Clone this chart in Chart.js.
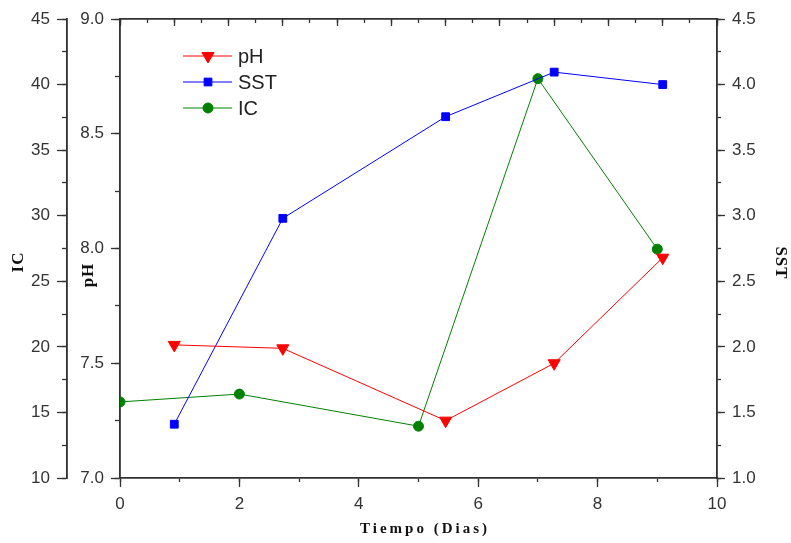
<!DOCTYPE html>
<html>
<head>
<meta charset="utf-8">
<script src="https://cdn.jsdelivr.net/npm/chart.js@4.4.0/dist/chart.umd.min.js"></script>
<style>
  html, body { margin: 0; padding: 0; background: #fff; }
</style>
</head>
<body>
<canvas id="chart" width="791" height="543"></canvas>
<script>
// IC is sampled on the bottom day axis, pH and SST on the top one (0-11)
const diasIC = [0, 2, 5, 7, 9];
const diasMuestra = [1, 3, 6, 8, 10];

const valoresIC = [15.8, 16.4, 13.95, 40.45, 27.45];
const valoresPH = [7.58, 7.565, 7.25, 7.50, 7.96];
const valoresSST = [1.41, 2.98, 3.755, 4.095, 4.0];

const ticksX = [0, 2, 4, 6, 8, 10];
const ticksXTop = [0, 1, 2, 3, 4, 5, 6, 7, 8, 9, 10, 11];
const ticksIC = [10, 15, 20, 25, 30, 35, 40, 45];
const ticksPH = [7.0, 7.5, 8.0, 8.5, 9.0];
const ticksSST = [1.0, 1.5, 2.0, 2.5, 3.0, 3.5, 4.0, 4.5];

const INK = '#333';
const tickFont = { family: '"Liberation Sans", Arial, sans-serif', size: 17 };

function isVertical(pos) {
    return pos === 'left' || pos === 'right';
}

// labelled axis with its major tick marks
function majorAxis(pos, min, max, list, tickLen, size, weight, fmt) {
    return {
        type: 'linear', position: pos, min: min, max: max, weight: weight,
        afterBuildTicks: s => { s.ticks = list.map(v => ({ value: v })); },
        afterFit: s => { if (isVertical(pos)) s.width = size; else s.height = size; },
        grid: { drawOnChartArea: false, drawTicks: true, tickLength: tickLen, tickColor: INK, tickWidth: 1.3 },
        border: { display: true, color: INK, width: 1.6 },
        ticks: {
            display: fmt !== null, autoSkip: false, color: INK, font: tickFont, padding: 7,
            maxRotation: 0, callback: fmt || (v => v)
        }
    };
}

// zero size axis that only adds the minor tick marks
function minorAxis(pos, min, max, step, tickLen, weight) {
    return {
        type: 'linear', position: pos, min: min, max: max, weight: weight,
        afterFit: s => { if (isVertical(pos)) s.width = 0; else s.height = 0; },
        grid: { drawOnChartArea: false, drawTicks: true, tickLength: tickLen, tickColor: INK, tickWidth: 1.3 },
        border: { display: true, color: INK, width: 1.6 },
        ticks: { display: false, stepSize: step, autoSkip: false }
    };
}

const oneDecimal = v => Number(v).toFixed(1);
const integer = v => String(v);

const legendBox = {
    id: 'legendBox',
    afterDraw(chart) {
        const ctx = chart.ctx;
        const rows = [56, 82, 108];
        chart.data.datasets.forEach((ds, i) => {
            const y = rows[i];
            ctx.save();
            ctx.strokeStyle = ds.borderColor;
            ctx.fillStyle = ds.backgroundColor;
            ctx.lineWidth = 1;
            ctx.beginPath();
            ctx.moveTo(183, y);
            ctx.lineTo(232, y);
            ctx.stroke();
            Chart.helpers.drawPoint(ctx, {
                pointStyle: ds.pointStyle, rotation: ds.rotation || 0,
                radius: ds.pointRadius, borderWidth: 1
            }, 208, y);
            ctx.fillStyle = '#222';
            ctx.font = '20px "Liberation Sans", Arial, sans-serif';
            ctx.textBaseline = 'middle';
            ctx.fillText(ds.label, 238, y + 1);
            ctx.restore();
        });
    }
};

const axisTitles = {
    id: 'axisTitles',
    afterDraw(chart) {
        const ctx = chart.ctx;
        const put = (text, x, y, rot, font, spacing) => {
            ctx.save();
            ctx.translate(x, y);
            ctx.rotate(rot);
            ctx.font = font;
            ctx.letterSpacing = spacing;
            ctx.fillStyle = '#111';
            ctx.textAlign = 'center';
            ctx.textBaseline = 'middle';
            ctx.fillText(text, 0, 0);
            ctx.restore();
        };
        const serif = '"Liberation Serif", "Times New Roman", serif';
        put('IC', 19, 262, -Math.PI / 2, 'bold 17px ' + serif, '1px');
        put('pH', 89, 275, -Math.PI / 2, 'bold 17px ' + serif, '1px');
        put('SST', 780, 263, Math.PI / 2, 'bold 17px ' + serif, '1px');
        put('Tiempo (Dias)', 425, 529, 0, 'bold 15px ' + serif, '3px');
    }
};

const ctx = document.getElementById('chart');

new Chart(ctx, {
    type: 'line',
    data: {
        datasets: [{
            label: 'pH',
            data: diasMuestra.map((d, i) => ({ x: d, y: valoresPH[i] })),
            xAxisID: 'xTop', yAxisID: 'yPH',
            borderColor: '#ff0000', backgroundColor: '#ff0000',
            pointStyle: 'triangle', rotation: 180, pointRadius: 7,
            borderWidth: 1
        }, {
            label: 'SST',
            data: diasMuestra.map((d, i) => ({ x: d, y: valoresSST[i] })),
            xAxisID: 'xTop', yAxisID: 'ySST',
            borderColor: '#0000ff', backgroundColor: '#0000ff',
            pointStyle: 'rect', pointRadius: 5.5,
            borderWidth: 1
        }, {
            label: 'IC',
            data: diasIC.map((d, i) => ({ x: d, y: valoresIC[i] })),
            xAxisID: 'x', yAxisID: 'yIC',
            borderColor: '#008000', backgroundColor: '#008000',
            pointStyle: 'circle', pointRadius: 5,
            borderWidth: 1
        }]
    },
    options: {
        responsive: false,
        animation: false,
        devicePixelRatio: 1,
        layout: { padding: { top: 19, left: 0, right: 0, bottom: 0 } },
        elements: { line: { tension: 0 } },
        scales: {
            x: majorAxis('bottom', 0, 10, ticksX, 9, 65, 2, integer),
            xMinor: minorAxis('bottom', 0, 10, 1, 4, 1),
            xTop: majorAxis('top', 0, 11, ticksXTop, -7, 0, 2, null),
            xTopMinor: minorAxis('top', 0, 11, 0.5, -4, 1),
            yIC: majorAxis('left', 10, 45, ticksIC, 10, 67, 4, integer),
            yICMinor: minorAxis('left', 10, 45, 2.5, 5, 3),
            yPH: majorAxis('left', 7, 9, ticksPH, 9, 53, 2, oneDecimal),
            yPHMinor: minorAxis('left', 7, 9, 0.25, 5, 1),
            ySST: majorAxis('right', 1, 4.5, ticksSST, 8, 74, 2, oneDecimal),
            ySSTMinor: minorAxis('right', 1, 4.5, 0.25, 4, 1)
        },
        plugins: {
            legend: { display: false },
            tooltip: { enabled: false }
        }
    },
    plugins: [legendBox, axisTitles]
});
</script>
</body>
</html>
